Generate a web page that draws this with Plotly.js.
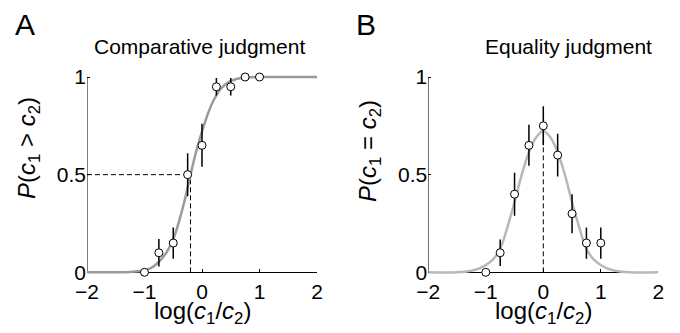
<!DOCTYPE html>
<html>
<head>
<meta charset="utf-8">
<script src="https://cdn.plot.ly/plotly-3.0.1.min.js"></script>
<style>html,body{margin:0;padding:0;background:#fff;}#plot{width:680px;height:333px;}</style>
</head>
<body>
<div id="plot"></div>
<script>
// ---- Data ----
// Panel A: comparative judgment
const xA = [-1, -0.75, -0.5, -0.25, 0, 0.25, 0.5, 0.75, 1];
const yA = [0, 0.10, 0.15, 0.50, 0.65, 0.95, 0.95, 1.0, 1.0];
const errA = [0, 0.07, 0.08, 0.11, 0.11, 0.045, 0.045, 0, 0];
const fitXA = [-2, -1.5, -1.25, -1.1, -1.0, -0.9, -0.8, -0.7, -0.6, -0.5, -0.4, -0.3, -0.2, -0.1, 0, 0.1, 0.2, 0.3, 0.4, 0.5, 0.6, 0.7, 0.8, 1.0, 1.5, 2];
const fitYA = [0, 0, 0.002, 0.005, 0.01, 0.02, 0.04, 0.07, 0.11, 0.17, 0.26, 0.37, 0.5, 0.62, 0.72, 0.81, 0.88, 0.93, 0.96, 0.98, 0.99, 0.995, 0.998, 1, 1, 1];
const thresholdA = -0.2;   // x where the fit crosses 0.5
const halfA = 0.5;

// Panel B: equality judgment
const xB = [-1, -0.75, -0.5, -0.25, 0, 0.25, 0.5, 0.75, 1];
const yB = [0, 0.10, 0.40, 0.65, 0.75, 0.60, 0.30, 0.15, 0.15];
const errB = [0, 0.068, 0.11, 0.105, 0.10, 0.11, 0.10, 0.08, 0.08];
const fitXB = [-2, -1.5, -1.25, -1.125, -1.0, -0.875, -0.75, -0.625, -0.5, -0.375, -0.25, -0.125, 0, 0.125, 0.25, 0.375, 0.5, 0.625, 0.75, 0.875, 1.0, 1.125, 1.25, 1.5, 2];
const fitYB = [0, 0, 0.008, 0.018, 0.037, 0.066, 0.12, 0.23, 0.36, 0.50, 0.615, 0.69, 0.725, 0.69, 0.615, 0.50, 0.36, 0.23, 0.12, 0.066, 0.037, 0.018, 0.008, 0, 0];
const peakXB = 0;
const peakYB = 0.72;

const xTicks = [-2, -1, 0, 1, 2];
const yTicks = [0, 0.5, 1];
const yTickText = ['0', '0.5', '1'];

// ---- Traces ----
const FONT = 'Liberation Sans, Arial, Helvetica, sans-serif';
const dashStyle = {color: '#000', width: 1, dash: '5px,3px'};

function dataTrace(x, y, e, xa, ya) {
  return {
    x: x, y: y, xaxis: xa, yaxis: ya, type: 'scatter', mode: 'markers',
    cliponaxis: false,
    marker: {symbol: 'circle', size: 8, color: '#fff', line: {color: '#000', width: 1}},
    error_y: {type: 'data', array: e, visible: true, color: '#000', thickness: 1.5, width: 0},
    hoverinfo: 'skip', showlegend: false
  };
}

const traces = [
  // A dashed guides
  {x: [-2, thresholdA], y: [halfA, halfA], xaxis: 'x', yaxis: 'y', mode: 'lines', line: dashStyle, showlegend: false, hoverinfo: 'skip'},
  {x: [thresholdA, thresholdA], y: [0, halfA], xaxis: 'x', yaxis: 'y', mode: 'lines', line: dashStyle, showlegend: false, hoverinfo: 'skip'},
  // A fit
  {x: fitXA, y: fitYA, xaxis: 'x', yaxis: 'y', mode: 'lines', line: {color: '#9a9a9a', width: 2.5, shape: 'spline', smoothing: 1}, showlegend: false, hoverinfo: 'skip'},
  dataTrace(xA, yA, errA, 'x', 'y'),
  // B dashed guide
  {x: [peakXB, peakXB], y: [0, peakYB], xaxis: 'x2', yaxis: 'y2', mode: 'lines', line: dashStyle, showlegend: false, hoverinfo: 'skip'},
  // B fit
  {x: fitXB, y: fitYB, xaxis: 'x2', yaxis: 'y2', mode: 'lines', line: {color: '#b8b8b8', width: 2.5, shape: 'spline', smoothing: 1}, showlegend: false, hoverinfo: 'skip'},
  dataTrace(xB, yB, errB, 'x2', 'y2')
];

// ---- Layout ----
const H = 333, W = 680;
const yTopPx = 77, yBotPx = 272.3;
const pxPerUnit = yBotPx - yTopPx;
const pad = 0.03;
const yDomain = [1 - (yBotPx + pad * pxPerUnit) / H, 1 - (yTopPx - pad * pxPerUnit) / H];
const xPos = 1 - yBotPx / H;

function xAxis(domain) {
  return {
    domain: domain, range: [-2, 2], anchor: 'free', position: xPos,
    tickmode: 'array', tickvals: xTicks, ticks: 'inside', ticklen: 3, tickwidth: 1, tickcolor: '#000',
    showline: true, linecolor: '#000', linewidth: 1, showgrid: false, zeroline: false,
    layer: 'below traces', tickfont: {family: FONT, size: 21, color: '#000'}, fixedrange: true
  };
}
function yAxis(xname) {
  return {
    domain: yDomain, range: [-pad, 1 + pad], anchor: xname,
    tickmode: 'array', tickvals: yTicks, ticktext: yTickText, ticks: 'inside', ticklen: 3, tickwidth: 1, tickcolor: '#000',
    showline: false, showgrid: false, zeroline: false,
    layer: 'below traces', tickfont: {family: FONT, size: 21, color: '#000'}, fixedrange: true
  };
}

const ann = (text, x, y, size, extra) => Object.assign({
  text: text, x: x / W, y: 1 - y / H, xref: 'paper', yref: 'paper', showarrow: false,
  xanchor: 'center', yanchor: 'middle', font: {family: FONT, size: size, color: '#000'}
}, extra || {});

const layout = {
  width: W, height: H,
  margin: {l: 0, r: 0, t: 0, b: 0},
  paper_bgcolor: '#fff', plot_bgcolor: 'rgba(0,0,0,0)',
  showlegend: false,
  xaxis: xAxis([87 / W, 317 / W]),
  yaxis: yAxis('x'),
  xaxis2: xAxis([428.3 / W, 658.3 / W]),
  yaxis2: yAxis('x2'),
  shapes: [
    {type: 'line', xref: 'x', yref: 'y', x0: -2, x1: -2, y0: 0, y1: 1, line: {color: '#000', width: 1}, layer: 'below'},
    {type: 'line', xref: 'x2', yref: 'y2', x0: -2, x1: -2, y0: 0, y1: 1, line: {color: '#000', width: 1}, layer: 'below'}
  ],
  annotations: [
    ann('A', 25, 24, 30),
    ann('B', 366, 24, 30),
    ann('Comparative judgment', 199, 46, 21),
    ann('Equality judgment', 568, 46, 21),
    ann('log(<i>c</i><sub>1</sub>/<i>c</i><sub>2</sub>)', 202.5, 312, 24),
    ann('log(<i>c</i><sub>1</sub>/<i>c</i><sub>2</sub>)', 543, 312, 24),
    ann('<i>P</i>(<i>c</i><sub>1</sub> &gt; <i>c</i><sub>2</sub>)', 28, 148, 24, {textangle: -90}),
    ann('<i>P</i>(<i>c</i><sub>1</sub> = <i>c</i><sub>2</sub>)', 369, 151, 24, {textangle: -90})
  ]
};

Plotly.newPlot('plot', traces, layout, {staticPlot: true, displayModeBar: false});
</script>
</body>
</html>
